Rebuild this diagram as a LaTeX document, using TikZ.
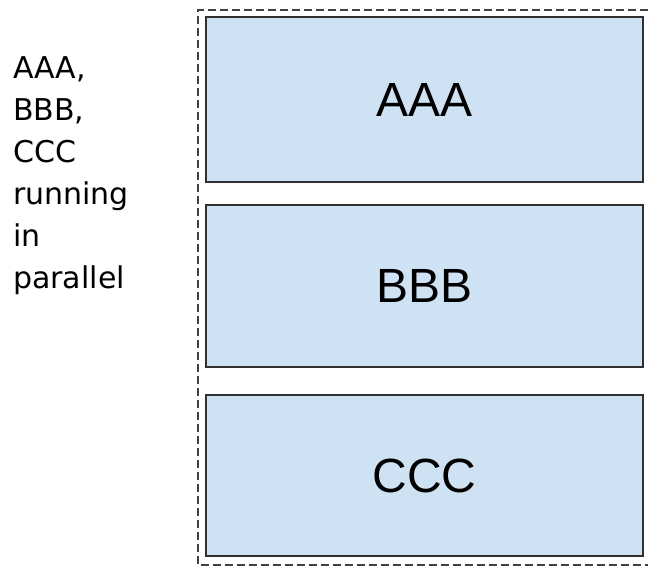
\documentclass[tikz,border=0pt]{standalone}
\usepackage{fontspec}
\setmainfont{Liberation Sans}
\newfontfamily\notefont{DejaVu Sans}
\usetikzlibrary{positioning}
\definecolor{boxfill}{HTML}{CFE2F3}
\definecolor{boxline}{HTML}{303030}
\definecolor{dashline}{HTML}{404040}
\tikzset{
  jobbox/.style={draw=boxline, line width=2.8pt, fill=boxfill,
    minimum width=437pt, minimum height=163pt, inner sep=0pt,
    font=\fontsize{48}{48}\selectfont},
  groupframe/.style={draw=dashline, line width=2.2pt, dash pattern=on 8pt off 4pt},
}
\begin{document}
\begin{tikzpicture}[x=1pt, y=-1pt]

% Rahmen des Bildes
\useasboundingbox (0,0) rectangle (648,567);

% gestrichelte Gruppe
\draw[groupframe] (660,10) -- (198,10) -- (198,565) -- (660,565);

% die drei Kaesten
\node[jobbox, minimum height=165pt] (aaa) at (424.5,99.5) {AAA};
\node[jobbox, minimum height=162pt] (bbb) at (424.5,286) {BBB};
\node[jobbox, minimum height=161pt] (ccc) at (424.5,475.5) {CCC};

% Beschriftung links
\node[anchor=north west, align=left, inner sep=0pt,
  font=\notefont\fontsize{30}{42}\selectfont] (note) at (13,56.5)
  {AAA,\\BBB,\\CCC\\running\\in\\parallel};

\end{tikzpicture}
\end{document}
